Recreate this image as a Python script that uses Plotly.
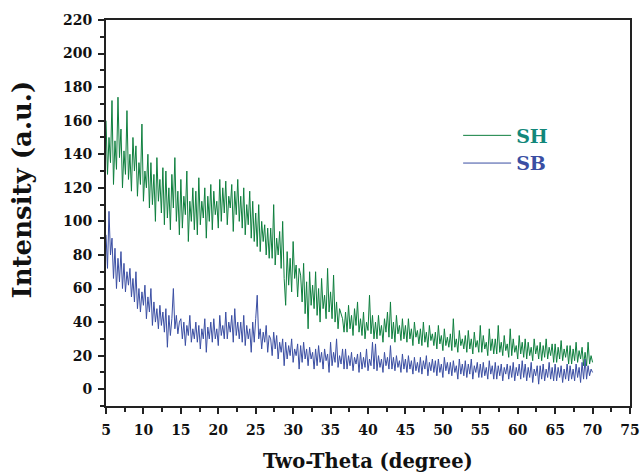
import numpy as np
import plotly.graph_objects as go

# sampling grid of two-theta (degree)
two_theta_start = 5.0
two_theta_step = 0.2

x_tick_values = [5, 10, 15, 20, 25, 30, 35, 40, 45, 50, 55, 60, 65, 70, 75]
y_tick_values = [0, 20, 40, 60, 80, 100, 120, 140, 160, 180, 200, 220]

sh_intensity = [
    160, 128, 150, 135, 172, 122, 148, 131, 174, 138,
    155, 120, 142, 128, 166, 125, 140, 118, 150, 130,
    145, 115, 135, 122, 158, 112, 130, 120, 140, 108,
    135, 110, 128, 100, 138, 112, 125, 105, 132, 98,
    130, 102, 120, 95, 128, 108, 138, 100, 118, 92,
    125, 96, 115, 104, 130, 88, 112, 100, 120, 95,
    118, 92, 126, 98, 112, 102, 120, 90, 115, 100,
    122, 95, 118, 104, 112, 96, 125, 100, 120, 105,
    124, 98, 115, 108, 122, 94, 118, 104, 125, 100,
    115, 96, 120, 92, 110, 98, 118, 90, 112, 88,
    105, 85, 110, 82, 100, 88, 98, 80, 96, 78,
    96, 78, 110, 74, 90, 80, 94, 72, 100, 66,
    50, 82, 62, 78, 58, 88, 66, 74, 55, 72,
    68, 52, 75, 45, 64, 36, 70, 50, 62, 48,
    70, 44, 60, 40, 66, 48, 56, 42, 72, 46,
    58, 42, 68, 40, 52, 36, 48, 44, 42, 34,
    46, 34, 50, 36, 44, 32, 48, 38, 52, 34,
    42, 32, 46, 30, 40, 35, 56, 33, 44, 30,
    40, 30, 44, 32, 38, 28, 42, 34, 46, 31,
    52, 30, 40, 28, 44, 33, 38, 29, 42, 30,
    38, 28, 42, 30, 36, 26, 40, 31, 35, 27,
    36, 26, 40, 28, 34, 25, 38, 29, 33, 26,
    34, 24, 38, 27, 32, 23, 36, 26, 31, 25,
    33, 23, 42, 25, 30, 22, 35, 26, 30, 24,
    32, 22, 35, 24, 30, 21, 34, 25, 29, 22,
    38, 22, 32, 24, 28, 20, 36, 23, 30, 21,
    30, 21, 38, 22, 28, 20, 32, 23, 27, 19,
    36, 20, 30, 22, 26, 18, 32, 21, 28, 19,
    30, 18, 28, 20, 25, 17, 30, 21, 26, 18,
    28, 17, 26, 19, 30, 18, 25, 20, 27, 16,
    27, 16, 25, 18, 29, 17, 24, 19, 26, 15,
    26, 15, 24, 17, 28, 16, 23, 18, 25, 14,
    22, 14, 28, 15, 20, 16,
]

sb_intensity = [
    92, 72, 106, 80, 90, 66, 84, 60, 78, 64,
    82, 60, 75, 58, 70, 62, 72, 55, 66, 52,
    70, 48, 60, 46, 58, 50, 62, 42, 55, 46,
    60, 38, 52, 40, 48, 36, 50, 38, 46, 34,
    48, 25, 44, 32, 42, 60, 36, 44, 33, 40,
    42, 30, 40, 26, 38, 32, 44, 28, 36, 30,
    40, 28, 38, 24, 36, 30, 42, 22, 37, 30,
    40, 28, 42, 30, 36, 26, 44, 32, 38, 30,
    46, 30, 40, 34, 44, 28, 48, 32, 40, 30,
    40, 28, 44, 26, 38, 30, 36, 22, 40, 28,
    42, 56, 30, 36, 24, 34, 28, 38, 22, 32,
    30, 20, 34, 24, 32, 18, 28, 22, 30, 14,
    28, 18, 26, 20, 30, 16, 24, 20, 27, 12,
    26, 16, 28, 18, 24, 14, 25, 18, 22, 12,
    24, 14, 26, 16, 22, 12, 24, 17, 21, 10,
    28, 14, 22, 16, 30, 13, 20, 15, 24, 12,
    24, 12, 20, 14, 22, 11, 19, 15, 21, 10,
    22, 12, 19, 13, 24, 11, 18, 14, 28, 12,
    27, 11, 20, 13, 18, 10, 22, 14, 19, 12,
    26, 12, 19, 11, 20, 13, 17, 10, 21, 12,
    18, 10, 20, 12, 17, 9, 19, 11, 16, 10,
    19, 9, 17, 12, 20, 8, 16, 11, 18, 10,
    17, 8, 18, 10, 15, 7, 19, 11, 16, 9,
    16, 8, 17, 10, 14, 6, 18, 9, 15, 8,
    17, 7, 15, 9, 18, 6, 14, 10, 16, 7,
    15, 7, 16, 8, 13, 6, 17, 9, 14, 6,
    16, 6, 14, 8, 15, 5, 13, 9, 15, 6,
    14, 7, 16, 5, 13, 8, 15, 6, 17, 7,
    15, 5, 13, 7, 16, 4, 12, 8, 14, 3,
    14, 6, 15, 5, 12, 7, 16, 6, 13, 5,
    15, 5, 13, 7, 14, 4, 12, 6, 15, 5,
    14, 6, 12, 5, 15, 7, 13, 4, 16, 6,
    18, 6, 14, 8, 12, 10,
]

two_theta = np.round(two_theta_start + two_theta_step * np.arange(len(sh_intensity)), 2)

SH_COLOR = "#0e7f3e"
SB_COLOR = "#3a4ea3"
FONT = "DejaVu Serif"

fig = go.Figure()
fig.add_trace(go.Scatter(
    x=two_theta, y=sh_intensity, mode="lines",
    line=dict(color=SH_COLOR, width=1),
    name="<b><span style='color:#12877a'>SH</span></b>",
))
fig.add_trace(go.Scatter(
    x=two_theta, y=sb_intensity, mode="lines",
    line=dict(color=SB_COLOR, width=1),
    name="<b><span style='color:#3a4ea3'>SB</span></b>",
))

axis_common = dict(
    showgrid=False, zeroline=False, automargin=False,
    showline=True, linecolor="#222", linewidth=2, mirror=True,
    ticks="outside", ticklen=6, tickwidth=1.5, tickcolor="#222",
    tickfont=dict(family=FONT, size=14, color="#111"),
)

fig.update_xaxes(
    range=[5, 75], tickmode="array",
    tickvals=x_tick_values, ticktext=[f"<b>{v}</b>" for v in x_tick_values],
    minor=dict(dtick=2.5, tick0=5, ticklen=4, tickcolor="#222", ticks="outside"),
    ticklabelstandoff=4,
    **axis_common,
)
fig.update_yaxes(
    range=[-10, 220], tickmode="array",
    tickvals=y_tick_values, ticktext=[f"<b>{v}</b>" for v in y_tick_values],
    minor=dict(dtick=10, tick0=0, ticklen=4, tickcolor="#222", ticks="outside"),
    ticklabelstandoff=3,
    **axis_common,
)

fig.add_annotation(
    text="<b>Two-Theta (degree)</b>",
    xref="paper", yref="paper", x=0.5, y=-0.145,
    xanchor="center", yanchor="middle", showarrow=False,
    font=dict(family=FONT, size=19.5, color="#111"),
)
fig.add_annotation(
    text="<b>Intensity (a.u.)</b>", textangle=-90,
    xref="paper", yref="paper", x=-0.161, y=0.56,
    xanchor="center", yanchor="middle", showarrow=False,
    font=dict(family=FONT, size=26, color="#111"),
)

fig.update_layout(
    width=643, height=473,
    margin=dict(l=106, r=13, t=20, b=67),
    paper_bgcolor="white", plot_bgcolor="white",
    showlegend=True,
    legend=dict(
        x=0.672, y=0.75, xanchor="left", yanchor="top",
        bgcolor="rgba(0,0,0,0)",
        font=dict(family=FONT, size=19),
        itemwidth=48, tracegroupgap=0,
    ),
)

fig.write_html("out.html")
